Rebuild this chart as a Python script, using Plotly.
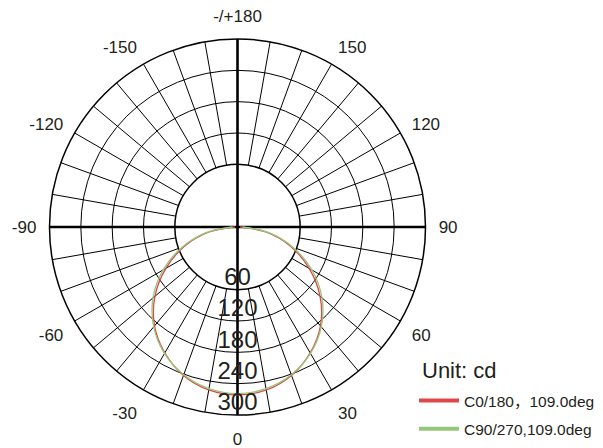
import plotly.graph_objects as go

# ---- data ----
gamma = [-90, -80, -70, -60, -50, -40, -30, -20, -10, 0, 10, 20, 30, 40, 50, 60, 70, 80, 90]
c0_180 = [4, 46, 90, 132, 172, 206, 232, 252, 264, 268, 264, 252, 232, 206, 172, 132, 90, 46, 4]
c90_270 = [8, 50, 94, 137, 176, 208, 233, 251, 262, 266, 262, 251, 233, 208, 176, 137, 94, 50, 8]

series_names = ["C0/180，109.0deg", "C90/270,109.0deg"]
series_colors = ["#e04848", "#93c77b"]

radial_ticks = [60, 120, 180, 240, 300]
angle_ticks = list(range(0, 360, 10))
angle_labels = {0: "0", 30: "30", 60: "60", 90: "90", 120: "120", 150: "150",
                180: "-/+180", 210: "-150", 240: "-120", 270: "-90", 300: "-60", 330: "-30"}

TXT = "#231f20"
FONT = "Liberation Sans, Arial, Noto Sans CJK SC, sans-serif"
HOLE = 1 / 3
CURVE_MAX = 300  # radial range of the curve layer

W, H = 595, 440  # page body has an 8px margin inside the 603x448 window


def grid_to_curve(v):
    # radius of grid value v (hole layer) expressed in the curve layer's units
    frac = HOLE + (1 - HOLE) * (v - radial_ticks[0]) / (radial_ticks[-1] - radial_ticks[0])
    return frac * CURVE_MAX


dom = dict(x=[41.5 / W, 417.5 / W], y=[33 / H, 409 / H])

fig = go.Figure()

# invisible trace so the grid subplot is rendered
fig.add_trace(go.Scatterpolar(r=[radial_ticks[0]], theta=[0], mode="markers",
                              marker=dict(opacity=0), subplot="polar",
                              showlegend=False, hoverinfo="skip"))

# thick cross lines through centre
fig.add_trace(go.Scatterpolar(r=[CURVE_MAX, 0, CURVE_MAX], theta=[0, 0, 180], mode="lines",
                              line=dict(color="black", width=2.6), subplot="polar2",
                              showlegend=False, hoverinfo="skip"))
fig.add_trace(go.Scatterpolar(r=[CURVE_MAX, 0, CURVE_MAX], theta=[90, 90, 270], mode="lines",
                              line=dict(color="black", width=2.6), subplot="polar2",
                              showlegend=False, hoverinfo="skip"))

for vals, name, col, grp in zip([c0_180, c90_270], series_names, series_colors, ["a", "b"]):
    # the curve itself (thin)
    fig.add_trace(go.Scatterpolar(r=vals, theta=gamma, mode="lines", name=name,
                                  line=dict(color=col, width=1.3, shape="spline"),
                                  subplot="polar2", legendgroup=grp, showlegend=False))
    # legend swatch (thick line)
    fig.add_trace(go.Scatterpolar(r=[None], theta=[None], mode="lines", name=name,
                                  line=dict(color=col, width=4),
                                  subplot="polar2", legendgroup=grp, showlegend=True,
                                  hoverinfo="skip"))

# radial tick labels along the 0 deg line, just inside each ring
fig.add_trace(go.Scatterpolar(r=[grid_to_curve(v) - 17 for v in radial_ticks],
                              theta=[0] * len(radial_ticks), mode="text",
                              text=[str(v) for v in radial_ticks],
                              textfont=dict(size=24, color=TXT, family=FONT),
                              subplot="polar2", showlegend=False, hoverinfo="skip"))

fig.update_layout(
    width=W, height=H,
    margin=dict(l=0, r=0, t=0, b=0),
    paper_bgcolor="white",
    font=dict(family=FONT, color=TXT),
    polar=dict(
        domain=dom, hole=HOLE, bgcolor="white",
        radialaxis=dict(range=[radial_ticks[0], radial_ticks[-1]], tickvals=radial_ticks,
                        showticklabels=False, ticks="", gridcolor="black", gridwidth=1,
                        showline=False),
        angularaxis=dict(rotation=270, direction="counterclockwise",
                         tickvals=angle_ticks,
                         ticktext=[angle_labels.get(a, "") for a in angle_ticks],
                         tickfont=dict(size=17, color=TXT, family=FONT),
                         ticks="outside", ticklen=9, tickcolor="rgba(0,0,0,0)",
                         gridcolor="black", gridwidth=1,
                         showline=True, linecolor="black", linewidth=1.5),
    ),
    polar2=dict(
        domain=dom, bgcolor="rgba(0,0,0,0)",
        radialaxis=dict(range=[0, CURVE_MAX], visible=False),
        angularaxis=dict(rotation=270, direction="counterclockwise", visible=False),
    ),
    showlegend=True,
    legend=dict(x=406 / W, xanchor="left", y=(448 - 384) / H, yanchor="top",
                font=dict(size=15.5, color=TXT, family=FONT),
                tracegroupgap=5, bgcolor="rgba(0,0,0,0)", itemwidth=40),
    annotations=[dict(text="Unit: cd", x=412 / W, y=(448 - 370) / H, xref="paper", yref="paper",
                      xanchor="left", yanchor="middle", showarrow=False,
                      font=dict(size=22, color=TXT, family=FONT))],
)

fig.write_html("out.html")
